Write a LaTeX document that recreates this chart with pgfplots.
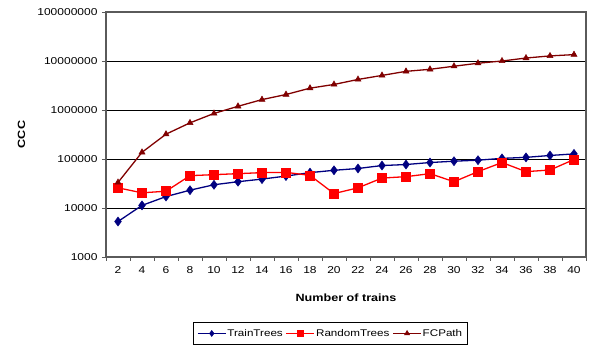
\documentclass[border=0pt]{standalone}
\usepackage{pgfplots}
\pgfplotsset{compat=1.18}
\usepackage{fontspec}
\setmainfont{Liberation Sans}[FakeStretch=1.2]
\definecolor{tt}{RGB}{0,0,128}
\definecolor{rt}{RGB}{255,0,0}
\definecolor{fc}{RGB}{128,0,0}
\definecolor{axgray}{RGB}{90,90,90}
\begin{document}
\begin{tikzpicture}
\useasboundingbox (-106pt,-90pt) rectangle (489pt,257pt);
\begin{axis}[
  scale only axis, width=480pt, height=245pt,
  ymode=log, ymin=1000, ymax=1e8, log basis y=10,
  xmin=1, xmax=41,
  xtick={2,4,...,40},
  xtick style={draw=none},
  extra x ticks={1,3,...,41}, extra x tick labels={},
  extra x tick style={xtick style={draw=axgray, line width=0.8pt}, major tick length=4pt, grid=none},
  ytick={1000,10000,100000,1000000,10000000,100000000},
  yticklabels={1000,10000,100000,1000000,10000000,100000000},
  ytick style={draw=axgray, line width=0.8pt},
  major tick length=4pt,
  tick align=outside, tick pos=left,
  ymajorgrids, grid style={black, line width=0.6pt},
  axis line style={draw=axgray, line width=1.2pt},
  tick label style={font=\fontsize{10}{12}\selectfont},
  /pgf/number format/assume math mode=true,
  yticklabel style={xshift=-1pt},
  xticklabel style={yshift=-2pt},
  xlabel={Number of trains},
  ylabel={CCC},
  xlabel style={font=\fontsize{10.5}{12}\selectfont\bfseries, at={(axis description cs:0.5,0)}, anchor=center, yshift=-41pt},
  ylabel style={font=\fontsize{10.5}{12}\selectfont\bfseries, at={(axis description cs:-0.176,0.5)}, anchor=center},
  legend columns=3,
  legend style={at={(axis description cs:0.467,-0.265)}, anchor=north, draw=black, line width=0.6pt,
    font=\fontsize{9.7}{12}\selectfont, inner ysep=6pt, inner xsep=4pt,
    nodes={inner xsep=1pt, inner ysep=1pt},
    /tikz/every even column/.append style={column sep=2pt}},
  legend image code/.code={\draw[mark repeat=2,mark phase=2,#1, mark size=3pt] plot coordinates {(0pt,0pt)(14pt,0pt)(28pt,0pt)};},
]
\addplot[color=tt, line width=1.3pt, mark=diamond*, mark size=4.5pt, mark options={solid, line width=0.5pt}] coordinates {
(2,5300)(4,11300)(6,17100)(8,23100)(10,29800)(12,34400)(14,38900)(16,44800)(18,52700)(20,58800)
(22,64000)(24,73500)(26,77100)(28,84700)(30,90100)(32,94600)(34,103000)(36,108000)(38,118000)(40,127000)};
\addlegendentry{TrainTrees}
\addplot[color=rt, line width=1.3pt, mark=square*, mark size=4.5pt, mark options={solid, line width=0.5pt}] coordinates {
(2,25800)(4,20400)(6,22000)(8,45700)(10,47900)(12,50200)(14,52700)(16,53400)(18,46300)(20,19700)
(22,25800)(24,40800)(26,43600)(28,50200)(30,34400)(32,55200)(34,84700)(36,55200)(38,59600)(40,97700)};
\addlegendentry{RandomTrees}
\addplot[color=fc, line width=1.3pt, mark=triangle*, mark size=3.5pt, mark options={solid, line width=0.5pt}] coordinates {
(2,33200)(4,137000)(6,321000)(8,547000)(10,851000)(12,1190000)(14,1630000)(16,2070000)(18,2790000)(20,3320000)
(22,4200000)(24,5080000)(26,6150000)(28,6770000)(30,7820000)(32,9000000)(34,10000000)(36,11500000)(38,12700000)(40,13500000)};
\addlegendentry{FCPath}
\end{axis}
\end{tikzpicture}
\end{document}
